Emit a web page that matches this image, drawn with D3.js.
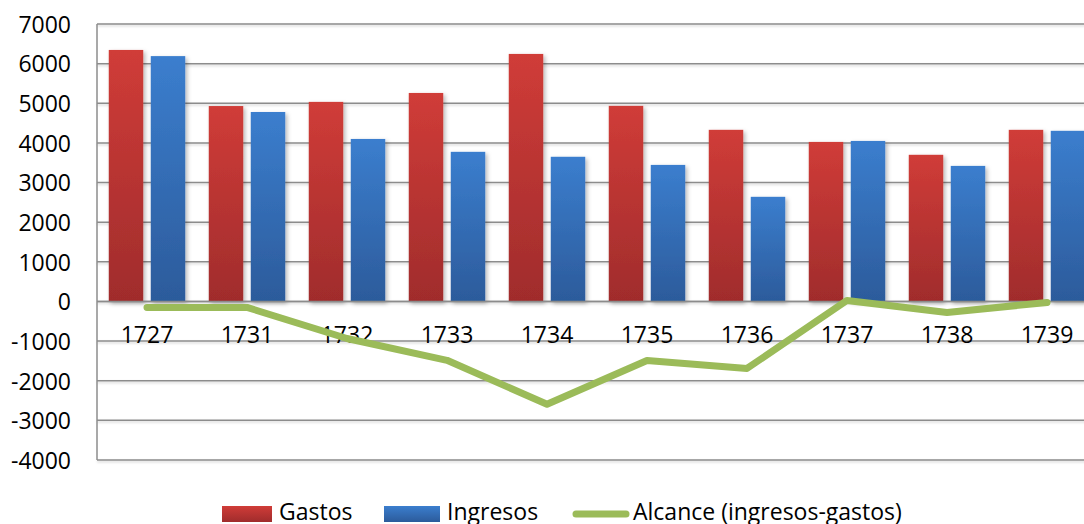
<!DOCTYPE html>
<html>
<head>
<meta charset="utf-8">
<script src="https://cdn.jsdelivr.net/npm/d3@7"></script>
<style>
  html, body { margin: 0; padding: 0; background: #ffffff; }
  svg { display: block; font-family: "Open Sans", "Noto Sans", sans-serif; }
</style>
</head>
<body>
<svg id="chart" width="1084" height="524"></svg>
<script>
// Years on the category axis
const years = ["1727", "1731", "1732", "1733", "1734", "1735", "1736", "1737", "1738", "1739"];
// Expenditure (Gastos) per year
const gastos = [6345, 4930, 5035, 5260, 6245, 4935, 4330, 4025, 3700, 4330];
// Income (Ingresos) per year
const ingresos = [6190, 4780, 4100, 3775, 3650, 3445, 2640, 4050, 3420, 4305];
// Balance line (Alcance: ingresos - gastos)
const alcance = [-155, -150, -935, -1485, -2595, -1490, -1690, 25, -280, -25];
// Value axis ticks
const yTicks = [-4000, -3000, -2000, -1000, 0, 1000, 2000, 3000, 4000, 5000, 6000, 7000];
// Legend labels
const seriesNames = ["Gastos", "Ingresos", "Alcance (ingresos-gastos)"];

const svg = d3.select("#chart");
const plotLeft = 97, plotRight = 1097, plotTop = 24, plotBottom = 460;

const x = d3.scaleBand().domain(years).range([plotLeft, plotRight]).padding(0);
const xs = d3.scaleBand().domain(["g", "i"]).range([0, x.bandwidth()])
  .paddingInner(0.179).paddingOuter(0.28);
const y = d3.scaleLinear().domain([-4000, 7000]).range([plotBottom, plotTop]);

const defs = svg.append("defs");
function grad(id, c1, c2) {
  const g = defs.append("linearGradient").attr("id", id)
    .attr("x1", 0).attr("y1", 0).attr("x2", 0).attr("y2", 1);
  g.append("stop").attr("offset", "0%").attr("stop-color", c1);
  g.append("stop").attr("offset", "100%").attr("stop-color", c2);
}
grad("gRed", "#d03c38", "#a02c2c");
grad("gBlue", "#3b7ece", "#2c5b9b");

const shadow = defs.append("filter").attr("id", "shadow")
  .attr("x", "-20%").attr("y", "-20%").attr("width", "160%").attr("height", "160%");
shadow.append("feDropShadow").attr("dx", 2).attr("dy", 2)
  .attr("stdDeviation", 2).attr("flood-color", "#000").attr("flood-opacity", 0.28);

const lineShadow = defs.append("filter").attr("id", "lshadow")
  .attr("filterUnits", "userSpaceOnUse")
  .attr("x", 0).attr("y", 0).attr("width", 1200).attr("height", 524);
lineShadow.append("feDropShadow").attr("dx", 0).attr("dy", 1.5)
  .attr("stdDeviation", 1).attr("flood-color", "#000").attr("flood-opacity", 0.18);

// Gridlines
svg.append("g").attr("filter", "url(#lshadow)")
  .selectAll("line").data(yTicks).join("line")
  .attr("x1", plotLeft).attr("x2", plotRight)
  .attr("y1", d => y(d)).attr("y2", d => y(d))
  .attr("stroke", "#8c8c8c").attr("stroke-width", 1.5);

// Value axis line
svg.append("line")
  .attr("x1", plotLeft).attr("x2", plotLeft).attr("y1", plotTop).attr("y2", plotBottom)
  .attr("stroke", "#8c8c8c").attr("stroke-width", 1.5);

// Value axis labels (plain integers, hyphen minus)
const yAxis = d3.axisLeft(y).tickValues(yTicks).tickSize(0).tickPadding(0)
  .tickFormat(d => String(d));
const yg = svg.append("g").attr("transform", "translate(71,0)").call(yAxis);
yg.select(".domain").remove();
yg.selectAll("text").attr("font-size", 23).attr("fill", "#000")
  .attr("font-family", "'Open Sans', sans-serif").attr("dy", "0.36em");

// Bars
const bars = svg.append("g").attr("filter", "url(#shadow)");
bars.selectAll(".g").data(years).join("rect")
  .attr("x", d => x(d) + xs("g"))
  .attr("width", xs.bandwidth())
  .attr("y", (d, i) => y(gastos[i]))
  .attr("height", (d, i) => y(0) - y(gastos[i]))
  .attr("fill", "url(#gRed)");
bars.selectAll(".i").data(years).join("rect")
  .attr("x", d => x(d) + xs("i"))
  .attr("width", xs.bandwidth())
  .attr("y", (d, i) => y(ingresos[i]))
  .attr("height", (d, i) => y(0) - y(ingresos[i]))
  .attr("fill", "url(#gBlue)");

// Zero line over bar bases
svg.append("line")
  .attr("x1", plotLeft).attr("x2", plotRight).attr("y1", y(0)).attr("y2", y(0))
  .attr("stroke", "#8c8c8c").attr("stroke-width", 1.5);

// Category labels
const xAxis = d3.axisBottom(x).tickSize(0).tickPadding(0);
const xg = svg.append("g").attr("transform", `translate(0,${y(0) + 33})`).call(xAxis);
xg.select(".domain").remove();
xg.selectAll("text").attr("font-size", 23).attr("fill", "#000")
  .attr("font-family", "'Open Sans', sans-serif").attr("dy", "0.36em");

// Balance line
const line = d3.line()
  .x((d, i) => x(years[i]) + x.bandwidth() / 2)
  .y(d => y(d));
svg.append("path").datum(alcance)
  .attr("d", line)
  .attr("fill", "none")
  .attr("stroke", "#9bbb59")
  .attr("stroke-width", 7)
  .attr("stroke-linejoin", "round")
  .attr("stroke-linecap", "round");

// Legend
const lg = svg.append("g").attr("font-size", 23).attr("fill", "#000");
lg.append("rect").attr("x", 222).attr("y", 506).attr("width", 50).attr("height", 16)
  .attr("fill", "url(#gRed)");
lg.append("text").attr("x", 279).attr("y", 520).text(seriesNames[0]);
lg.append("rect").attr("x", 384).attr("y", 506).attr("width", 56).attr("height", 16)
  .attr("fill", "url(#gBlue)");
lg.append("text").attr("x", 447).attr("y", 520).text(seriesNames[1]);
lg.append("line").attr("x1", 576).attr("x2", 626).attr("y1", 514).attr("y2", 514)
  .attr("stroke", "#9bbb59").attr("stroke-width", 7).attr("stroke-linecap", "round");
lg.append("text").attr("x", 633).attr("y", 520).text(seriesNames[2]);
</script>
</body>
</html>
